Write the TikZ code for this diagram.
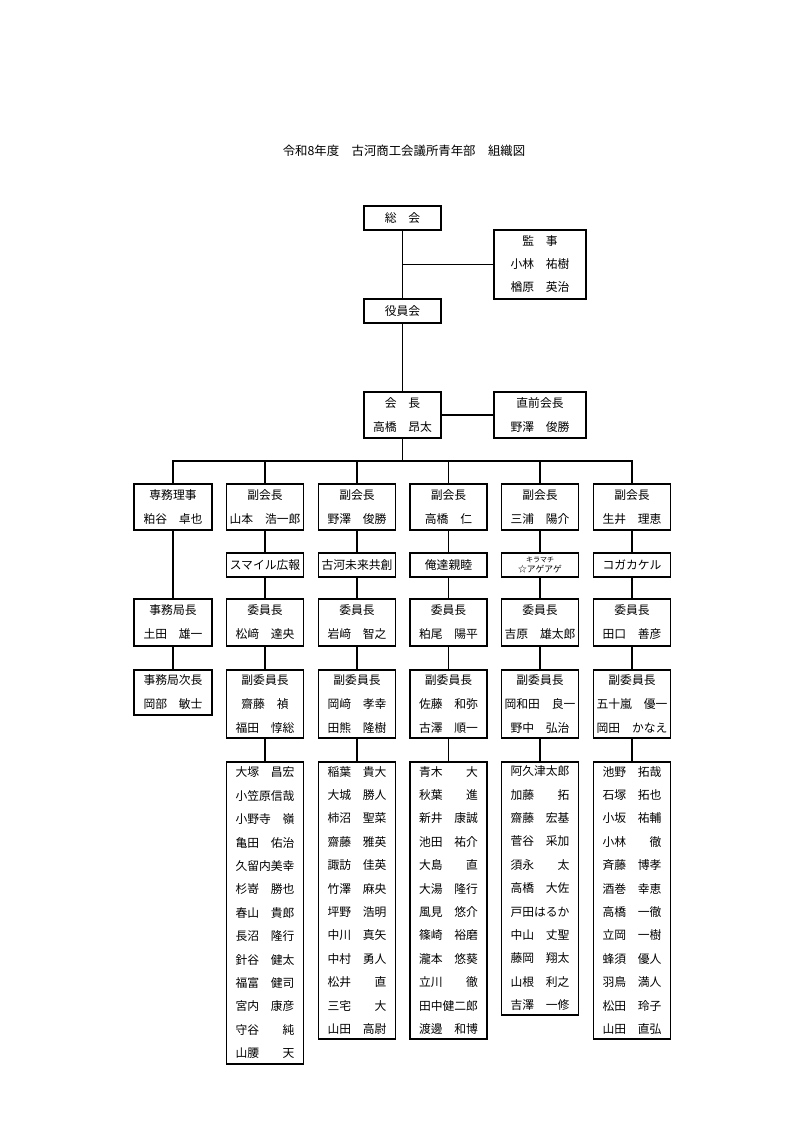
\documentclass[tikz,border=0pt]{standalone}
\usepackage{fontspec}
\setmainfont{Noto Sans CJK JP}
\newcommand\pname[2]{\makebox[5em]{#1\hfill#2}}
\tikzset{
  bx/.style={draw, line width=1.6pt, minimum width=77pt, inner xsep=1pt, inner ysep=1pt,
    align=center, fill=white, font=\fontsize{11.8}{24}\selectfont},
  memb/.style={bx, anchor=north, font=\fontsize{11.8}{23.4}\selectfont},
  ln/.style={line width=1.6pt},
}
\begin{document}
\begin{tikzpicture}[x=1pt,y=-1pt]
\fill[white] (0,0) rectangle (806,1140);
\useasboundingbox (0,0) rectangle (806,1140);

\node[font=\fontsize{12.4}{14}\selectfont] (title) at (404,151) {令和8年度　古河商工会議所青年部　組織図};

\node[bx, minimum height=24pt] (soukai) at (402.5,218) {総　会};
\node[bx, minimum width=92pt, minimum height=69pt, font=\fontsize{11.8}{23}\selectfont] (kanji) at (540,264.5) {監　事\\小林　祐樹\\楢原　英治};
\node[bx, minimum height=24pt] (yakuin) at (402.5,311) {役員会};
\node[bx, minimum height=46pt] (kaicho) at (402.5,415) {会　長\\高橋　昂太};
\node[bx, minimum width=92pt, minimum height=46pt] (zenkai) at (540,415) {直前会長\\野澤　俊勝};

\coordinate (bus) at (402.5,461);

% row of officers
\node[bx, minimum width=78pt, minimum height=46pt] (r1) at (173,507) {専務理事\\粕谷　卓也};
\node[bx, minimum height=46pt] (r2) at (265,507) {副会長\\山本　浩一郎};
\node[bx, minimum height=46pt] (r3) at (357,507) {副会長\\野澤　俊勝};
\node[bx, minimum height=46pt] (r4) at (448.5,507) {副会長\\高橋　仁};
\node[bx, minimum height=46pt] (r5) at (540,507) {副会長\\三浦　陽介};
\node[bx, minimum height=46pt] (r6) at (632,507) {副会長\\生井　理恵};

% committees
\node[bx, minimum height=24pt] (c2) at (265,565) {スマイル広報};
\node[bx, minimum height=24pt] (c3) at (357,565) {古河未来共創};
\node[bx, minimum height=24pt] (c4) at (448.5,565) {俺達親睦};
\node[bx, minimum height=24pt, font=\fontsize{8.8}{10}\selectfont] (c5) at (540,565) {{\fontsize{7}{7.5}\selectfont キラマチ}\\[-0.8pt]☆アゲアゲ};
\node[bx, minimum height=24pt] (c6) at (632,565) {コガカケル};

% chairs
\node[bx, minimum width=78pt, minimum height=47pt] (h1) at (173,622.5) {事務局長\\土田　雄一};
\node[bx, minimum height=47pt] (h2) at (265,622.5) {委員長\\松﨑　達央};
\node[bx, minimum height=47pt] (h3) at (357,622.5) {委員長\\岩﨑　智之};
\node[bx, minimum height=47pt] (h4) at (448.5,622.5) {委員長\\粕尾　陽平};
\node[bx, minimum height=47pt] (h5) at (540,622.5) {委員長\\吉原　雄太郎};
\node[bx, minimum height=47pt] (h6) at (632,622.5) {委員長\\田口　善彦};

% vice chairs
\node[bx, minimum width=78pt, minimum height=45pt] (s1) at (173,692.5) {事務局次長\\岡部　敏士};
\node[bx, minimum height=68pt] (s2) at (265,704) {副委員長\\齋藤　禎\\福田　惇総};
\node[bx, minimum height=68pt] (s3) at (357,704) {副委員長\\岡﨑　孝幸\\田熊　隆樹};
\node[bx, minimum height=68pt] (s4) at (448.5,704) {副委員長\\佐藤　和弥\\古澤　順一};
\node[bx, minimum height=68pt] (s5) at (540,704) {副委員長\\岡和田　良一\\野中　弘治};
\node[bx, minimum height=68pt] (s6) at (632,704) {副委員長\\五十嵐　優一\\岡田　かなえ};

% members
\node[memb, minimum height=302pt] (m2) at (265,761) {\pname{大塚}{昌宏}\\\pname{小笠原}{信哉}\\\pname{小野寺}{嶺}\\\pname{亀田}{佑治}\\\pname{久留内}{美幸}\\\pname{杉嵜}{勝也}\\\pname{春山}{貴郎}\\\pname{長沼}{隆行}\\\pname{針谷}{健太}\\\pname{福富}{健司}\\\pname{宮内}{康彦}\\\pname{守谷}{純}\\\pname{山腰}{天}};
\node[memb, minimum height=277pt] (m3) at (357,761) {\pname{稲葉}{貴大}\\\pname{大城}{勝人}\\\pname{柿沼}{聖菜}\\\pname{齋藤}{雅英}\\\pname{諏訪}{佳英}\\\pname{竹澤}{麻央}\\\pname{坪野}{浩明}\\\pname{中川}{真矢}\\\pname{中村}{勇人}\\\pname{松井}{直}\\\pname{三宅}{大}\\\pname{山田}{高尉}};
\node[memb, minimum height=277pt] (m4) at (448.5,761) {\pname{青木}{大}\\\pname{秋葉}{進}\\\pname{新井}{康誠}\\\pname{池田}{祐介}\\\pname{大島}{直}\\\pname{大湯}{隆行}\\\pname{風見}{悠介}\\\pname{篠崎}{裕磨}\\\pname{瀧本}{悠葵}\\\pname{立川}{徹}\\\pname{田中}{健二郎}\\\pname{渡邊}{和博}};
\node[memb, minimum height=253pt] (m5) at (540,761) {\pname{阿久津}{太郎}\\\pname{加藤}{拓}\\\pname{齋藤}{宏基}\\\pname{菅谷}{采加}\\\pname{須永}{太}\\\pname{高橋}{大佐}\\\pname{戸田}{はるか}\\\pname{中山}{丈聖}\\\pname{藤岡}{翔太}\\\pname{山根}{利之}\\\pname{吉澤}{一修}};
\node[memb, minimum height=277pt] (m6) at (632,761) {\pname{池野}{拓哉}\\\pname{石塚}{拓也}\\\pname{小坂}{祐輔}\\\pname{小林}{徹}\\\pname{斉藤}{博孝}\\\pname{酒巻}{幸恵}\\\pname{高橋}{一徹}\\\pname{立岡}{一樹}\\\pname{蜂須}{優人}\\\pname{羽鳥}{満人}\\\pname{松田}{玲子}\\\pname{山田}{直弘}};

% connectors
\draw[ln] (soukai.south) -- (yakuin.north);
\draw[ln] (soukai.south |- kanji.west) -- (kanji.west);
\draw[ln] (yakuin.south) -- (kaicho.north);
\draw[ln] (kaicho.east) -- (zenkai.west);
\draw[ln] (kaicho.south) -- (bus);
\draw[ln] (r1.north) |- (bus) -| (r6.north);
\foreach \i in {2,3,4,5} \draw[ln] (r\i.north) -- (r\i.north |- bus);
\draw[ln] (r1.south) -- (h1.north);
\draw[ln] (h1.south) -- (s1.north);
\foreach \i in {2,...,6} {
  \draw[ln] (r\i.south) -- (c\i.north);
  \draw[ln] (c\i.south) -- (h\i.north);
  \draw[ln] (h\i.south) -- (s\i.north);
  \draw[ln] (s\i.south) -- (m\i.north);
}
\end{tikzpicture}
\end{document}
